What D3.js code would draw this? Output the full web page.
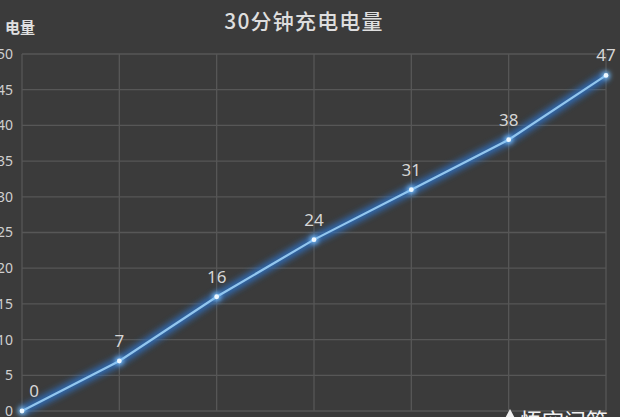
<!DOCTYPE html>
<html lang="zh">
<head>
    <meta charset="UTF-8">
    <title>30分钟充电电量</title>
    <script src="https://d3js.org/d3.v7.min.js"></script>
    <style>
        html, body {
            margin: 0;
            padding: 0;
            background: #3b3b3b;
            overflow: hidden;
        }
        svg {
            display: block;
            font-family: "Noto Sans CJK SC", "Noto Sans", sans-serif;
        }
    </style>
</head>
<body>
<svg id="chart"></svg>
<script>
    // minutes of charging and the charge reached (%)
    const minutes = [0, 5, 10, 15, 20, 25, 30];
    const charge = [0, 7, 16, 24, 31, 38, 47];
    const yTicks = [0, 5, 10, 15, 20, 25, 30, 35, 40, 45, 50];

    const width = 620;
    const height = 417;

    const svg = d3.select("#chart")
        .attr("width", width)
        .attr("height", height);

    svg.append("rect")
        .attr("width", width)
        .attr("height", height)
        .attr("fill", "#3b3b3b");

    const x = d3.scaleLinear().domain([0, 30]).range([22, 606]);
    const y = d3.scaleLinear().domain([0, 50]).range([411, 54]);

    // glow filters for the line and the points
    const defs = svg.append("defs");
    const glow = defs.append("filter")
        .attr("id", "glow")
        .attr("x", "-10%").attr("y", "-10%")
        .attr("width", "120%").attr("height", "120%");
    glow.append("feGaussianBlur").attr("stdDeviation", 3);

    const dotGlow = defs.append("filter")
        .attr("id", "dotglow")
        .attr("x", "-100%").attr("y", "-100%")
        .attr("width", "300%").attr("height", "300%");
    dotGlow.append("feGaussianBlur").attr("stdDeviation", 2.5);

    // grid
    const grid = svg.append("g");
    grid.selectAll("line.h")
        .data(yTicks)
        .enter()
        .append("line")
        .attr("class", "h")
        .attr("x1", x(0))
        .attr("x2", x(30))
        .attr("y1", d => y(d))
        .attr("y2", d => y(d))
        .attr("stroke", "#575757")
        .attr("stroke-width", 1.3);

    grid.selectAll("line.v")
        .data(minutes)
        .enter()
        .append("line")
        .attr("class", "v")
        .attr("x1", d => x(d))
        .attr("x2", d => x(d))
        .attr("y1", y(50))
        .attr("y2", y(0))
        .attr("stroke", "#575757")
        .attr("stroke-width", 1.3);

    // y axis tick labels, via d3 axis
    const yAxis = svg.append("g")
        .attr("transform", `translate(${x(0) - 9},0)`)
        .call(d3.axisLeft(y).tickValues(yTicks).tickSize(0).tickPadding(0));
    yAxis.select(".domain").remove();
    yAxis.selectAll("text")
        .attr("fill", "#cfcfcf")
        .attr("font-size", 14)
        .attr("font-family", "'Noto Sans', sans-serif");

    // axis title
    svg.append("text")
        .attr("x", 5)
        .attr("y", 33)
        .attr("fill", "#e0e0e0")
        .attr("font-size", 15)
        .attr("font-weight", "bold")
        .text("电量");

    // chart title
    svg.append("text")
        .attr("x", 304)
        .attr("y", 29)
        .attr("text-anchor", "middle")
        .attr("fill", "#dedede")
        .attr("font-size", 21)
        .attr("font-weight", 500)
        .attr("letter-spacing", 1.2)
        .text("30分钟充电电量");

    const line = d3.line()
        .x((d, i) => x(minutes[i]))
        .y(d => y(d));

    svg.append("path")
        .datum(charge)
        .attr("d", line)
        .attr("fill", "none")
        .attr("stroke", "#2e6fc0")
        .attr("stroke-width", 9)
        .attr("opacity", 0.9)
        .attr("filter", "url(#glow)");

    svg.append("path")
        .datum(charge)
        .attr("d", line)
        .attr("fill", "none")
        .attr("stroke", "#92c6ee")
        .attr("stroke-width", 2.2);

    svg.selectAll("circle.halo")
        .data(charge)
        .enter()
        .append("circle")
        .attr("class", "halo")
        .attr("cx", (d, i) => x(minutes[i]))
        .attr("cy", d => y(d))
        .attr("r", 4)
        .attr("fill", "#7fc4ff")
        .attr("filter", "url(#dotglow)");

    svg.selectAll("circle.pt")
        .data(charge)
        .enter()
        .append("circle")
        .attr("class", "pt")
        .attr("cx", (d, i) => x(minutes[i]))
        .attr("cy", d => y(d))
        .attr("r", 2.4)
        .attr("fill", "#eef8ff");

    svg.selectAll("text.val")
        .data(charge)
        .enter()
        .append("text")
        .attr("class", "val")
        .attr("x", (d, i) => x(minutes[i]) + (i === 0 ? 12 : 0))
        .attr("y", d => y(d) - 14)
        .attr("text-anchor", "middle")
        .attr("fill", "#d6d6d6")
        .attr("font-size", 17)
        .attr("font-family", "'Noto Sans', sans-serif")
        .text(d => d);

    // watermark, cut off by the bottom edge
    const wm = svg.append("g").attr("transform", "translate(500,0)");
    wm.append("path")
        .attr("d", "M2,424 L10,409 L18,424 Z")
        .attr("fill", "#f0f0f0");
    wm.append("text")
        .attr("x", 20)
        .attr("y", 429)
        .attr("fill", "#f0f0f0")
        .attr("font-size", 22)
        .text("悟空问答");
</script>
</body>
</html>
